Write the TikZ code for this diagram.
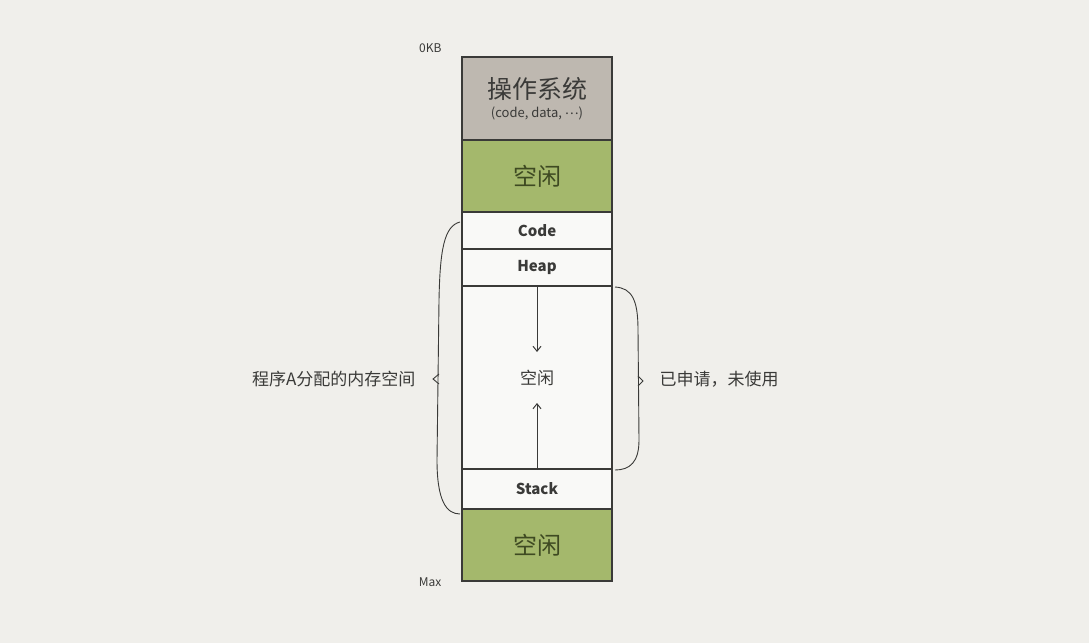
\documentclass[tikz,border=0pt]{standalone}
\usepackage{fontspec}
\setmainfont{Noto Sans CJK SC}
\usetikzlibrary{positioning, arrows.meta, calc}
\definecolor{paper}{HTML}{F0EFEB}
\definecolor{osgray}{HTML}{BEB8B0}
\definecolor{freegreen}{HTML}{A4B86C}
\definecolor{ink}{HTML}{3A3A38}
\definecolor{freetext}{HTML}{3E4A22}
\begin{document}
\begin{tikzpicture}[x=1pt, y=1pt,
    seg/.style={draw=ink, line width=1.3pt, minimum width=150pt, inner sep=0pt, outer sep=0pt,
      align=center, text=ink},
    osseg/.style={seg, fill=osgray, minimum height=83pt},
    freeseg/.style={seg, fill=freegreen, minimum height=72pt, text=freetext, font=\fontsize{24}{26}\selectfont},
    smallseg/.style={seg, fill=white!60!paper, minimum height=37pt, font=\fontsize{15}{17}\selectfont\bfseries},
    brace/.style={draw=ink, line width=0.9pt},
    growarrow/.style={-{Straight Barb[length=5pt, width=8pt]}, draw=ink, line width=1pt},
    note/.style={text=ink, font=\fontsize{17}{19}\selectfont},
    node distance=0pt]
  \useasboundingbox[fill=paper] (0,0) rectangle (1089,-643);

  \node[osseg] (os) at (537,-98.5) {{\fontsize{25}{27}\selectfont 操作系统}\\[5pt]{\fontsize{13}{15}\selectfont (code, data, \raisebox{0.35ex}{…})}};
  \node[freeseg, below=of os] (free1) {空闲};
  \node[smallseg, below=of free1] (code) {Code};
  \node[smallseg, below=of code] (heap) {Heap};
  \node[seg, fill=white!60!paper, minimum height=183pt, below=of heap] (gap) {};
  \node[smallseg, minimum height=40pt, below=of gap] (stack) {Stack};
  \node[freeseg, below=of stack] (free2) {空闲};

  \node[text=ink, font=\fontsize{12}{14}\selectfont, anchor=east] (top) at (445,-48) {0KB};
  \node[text=ink, font=\fontsize{12}{14}\selectfont, anchor=east] (bottom) at (445,-582) {Max};

  % free space between heap and stack
  \node[note] (mid) at (gap.center) {空闲};
  \coordinate (downtip) at ($(heap.south)+(0,-66)$);
  \coordinate (uptip) at ($(stack.north)+(0,66)$);
  \draw[growarrow] (heap.south) -- (downtip);
  \draw[growarrow] (stack.north) -- (uptip);

  % braces
  \coordinate (lb1) at ($(code.north west)+(-2,-10)$);
  \coordinate (lb2) at ($(stack.south west)+(-2,-5)$);
  \draw[brace] (lb1) .. controls (444,-226) and (440,-250) .. (439,-300)
    -- (437,-460) .. controls (437,-500) and (446,-514) .. (lb2);
  \draw[brace] (439,-374) -- (433,-379) -- (439,-384);
  \coordinate (rb1) at ($(heap.south east)+(3,-1)$);
  \coordinate (rb2) at ($(stack.north east)+(3,-1)$);
  \draw[brace] (rb1) .. controls (632,-288) and (638,-300) .. (638,-330)
    -- (639,-440) .. controls (639,-462) and (630,-470) .. (rb2);
  \draw[brace] (638,-376) -- (643,-381) -- (638,-386);

  \node[note, anchor=east] (own) at (419,-379) {程序A分配的内存空间};
  \node[note, anchor=west] (unused) at (656,-379) {已申请，未使用};
\end{tikzpicture}
\end{document}
